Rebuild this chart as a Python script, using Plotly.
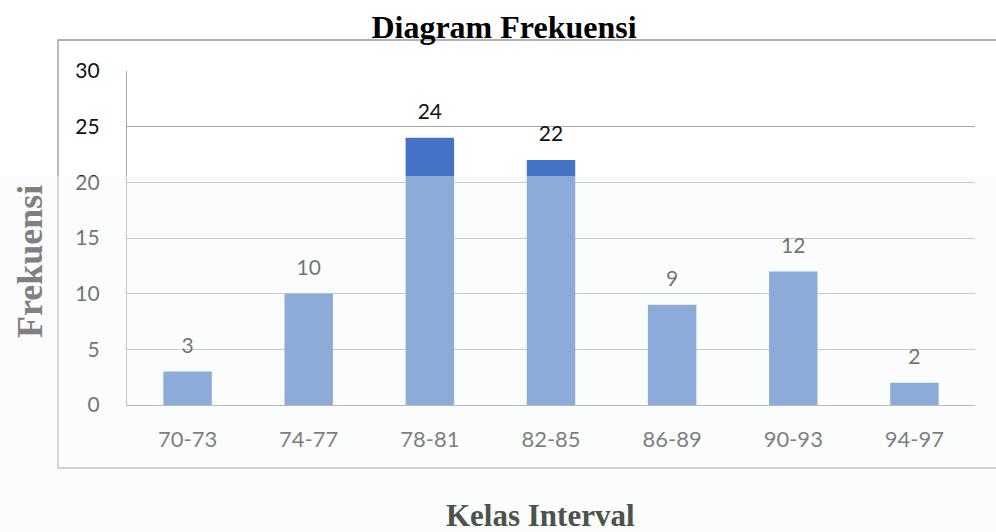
import plotly.graph_objects as go

categories = ["70-73", "74-77", "78-81", "82-85", "86-89", "90-93", "94-97"]
frekuensi = [3, 10, 24, 22, 9, 12, 2]
y_ticks = [0, 5, 10, 15, 20, 25, 30]

title_text = "Diagram Frekuensi"
y_title = "Frekuensi"
x_title = "Kelas Interval"

# pixel geometry helpers
W, H = 996, 532
L, R, T, B = 127, 21, 71, 127
PW, PH = W - L - R, H - T - B


def xp(px):
    return (px - L) / PW


def yp(py):
    return (H - B - py) / PH


fig = go.Figure()
fig.add_trace(go.Bar(
    x=categories, y=frekuensi,
    marker=dict(color="#4472C4", line=dict(width=0)),
    hoverinfo="skip",
))
fig.add_trace(go.Scatter(
    x=categories, y=frekuensi,
    mode="markers+text",
    text=[str(v) for v in frekuensi],
    textposition="top center",
    textfont=dict(family="Lato", size=21, color="#111111"),
    marker=dict(size=20, opacity=0),
    cliponaxis=False,
    hoverinfo="skip",
))

shapes = [
    # outer chart box
    dict(type="rect", xref="paper", yref="paper",
         x0=xp(58), x1=xp(1010), y0=yp(468), y1=yp(40),
         line=dict(color="#9a9a9a", width=1.3), fillcolor="rgba(0,0,0,0)",
         layer="below"),
    # washed-out watermark overlay over lower part of the page
    dict(type="rect", xref="paper", yref="paper",
         x0=xp(-5), x1=xp(1010), y0=yp(540), y1=yp(176),
         line=dict(width=0), fillcolor="rgba(242,250,246,0.42)",
         layer="above"),
]

annotations = [
    dict(text="<b>" + y_title + "</b>", xref="paper", yref="paper",
         x=xp(30), y=yp(262), textangle=-90, showarrow=False,
         xanchor="center", yanchor="middle",
         font=dict(family="Liberation Serif", size=36, color="#808080")),
    dict(text="<b>" + x_title + "</b>", xref="paper", yref="paper",
         x=xp(540), y=yp(515), showarrow=False,
         xanchor="center", yanchor="middle",
         font=dict(family="Liberation Serif", size=31, color="#4d524d")),
]

fig.update_layout(
    width=W, height=H,
    margin=dict(l=L, r=R, t=T, b=B),
    paper_bgcolor="white", plot_bgcolor="white",
    showlegend=False,
    bargap=0.6,
    title=dict(text="<b>" + title_text + "</b>", xref="container", x=504 / W,
               xanchor="center", yref="container", y=1 - 27 / H,
               yanchor="middle",
               font=dict(family="Liberation Serif", size=32, color="#000000")),
    shapes=shapes,
    annotations=annotations,
    xaxis=dict(
        showgrid=False, showline=True, linecolor="#8c8c8c", linewidth=1.3,
        ticks="", ticklabelstandoff=14,
        tickfont=dict(family="Lato", size=22, color="#262626"),
    ),
    yaxis=dict(
        range=[0, 30], tickvals=y_ticks, showgrid=True,
        gridcolor="#a6a6a6", gridwidth=1.3,
        showline=True, linecolor="#a6a6a6", linewidth=1.3,
        zeroline=False, ticks="", ticklabelstandoff=22,
        tickfont=dict(family="Lato", size=21, color="#111111"),
    ),
)

fig.write_html(
    "out.html",
    config={"displayModeBar": False},
    post_script="document.body.style.margin='0px';document.body.style.overflow='hidden';",
)
